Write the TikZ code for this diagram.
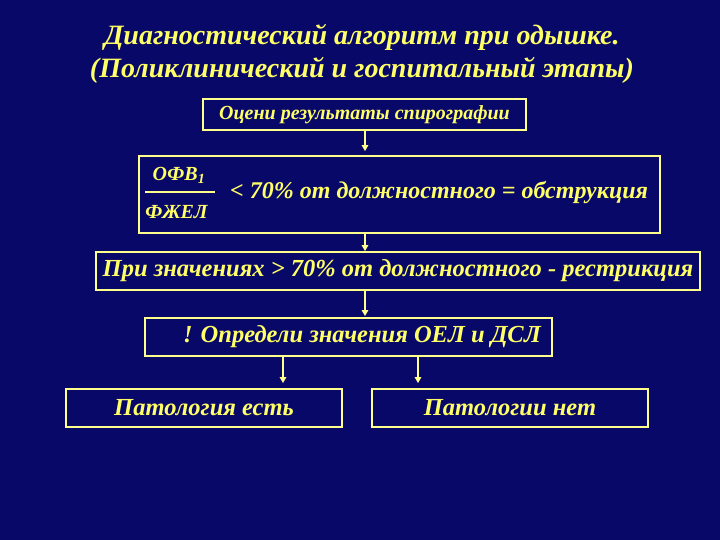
\documentclass[tikz,border=0pt]{standalone}
\usepackage{fontspec}
\setmainfont{Liberation Serif}
\usetikzlibrary{arrows.meta}
\definecolor{bg}{RGB}{8,8,105}
\definecolor{txt}{RGB}{255,255,102}
\definecolor{ln}{RGB}{255,255,140}
\tikzset{
  box/.style={draw=ln, line width=1.8pt, text=txt, inner sep=0pt},
  arr/.style={draw=ln, line width=1.2pt, -{Triangle[length=6pt,width=6.5pt]}},
  lbl/.style={text=txt, inner sep=0pt},
  big/.style={font=\fontsize{24.5}{28}\selectfont\bfseries\itshape},
}
\begin{document}
\begin{tikzpicture}[x=1pt,y=-1pt]
\fill[bg] (0,0) rectangle (720,540);
\useasboundingbox (0,0) rectangle (720,540);
\node[lbl, font=\fontsize{28}{33}\selectfont\bfseries\itshape, align=center] (title) at (362,54) {Диагностический алгоритм при одышке.\\(Поликлинический и госпитальный этапы)};
\node[box, minimum width=323pt, minimum height=31pt, font=\fontsize{20}{22}\selectfont\bfseries\itshape] (b1) at (364.5,114.5) {Оцени результаты спирографии};
\node[box, minimum width=521pt, minimum height=77pt] (b2) at (399.5,194.5) {};
\node[lbl, font=\fontsize{20}{22}\selectfont\bfseries\itshape] (num) at (179,175) {ОФВ\textsubscript{1}};
\node[lbl, font=\fontsize{20}{22}\selectfont\bfseries\itshape] (den) at (176.5,212) {ФЖЕЛ};
\coordinate (fl) at (145,192);
\coordinate (fr) at (215,192);
\draw[ln, line width=1.4pt] (fl) -- (fr);
\node[lbl, font=\fontsize{24}{28}\selectfont\bfseries\itshape, anchor=west] (t2) at (230,193) {< 70\% от должностного = обструкция};
\node[box, big, minimum width=604pt, minimum height=38pt] (b3) at (398,271) {При значениях > 70\% от должностного - рестрикция};
\node[box, big, minimum width=407pt, minimum height=38pt] (b4) at (348.5,337) {\hspace*{27pt}! Определи значения ОЕЛ и ДСЛ};
\node[box, big, minimum width=276pt, minimum height=38pt] (b5) at (204,408) {Патология есть};
\node[box, big, minimum width=276pt, minimum height=38pt] (b6) at (510,408) {Патологии нет};
\draw[arr] (b1.south -| 365,0) -- ([yshift=4pt]b2.north -| 365,0);
\draw[arr] (b2.south -| 365,0) -- (b3.north -| 365,0);
\draw[arr] (b3.south -| 365,0) -- ([yshift=1pt]b4.north -| 365,0);
\draw[arr] (b4.south -| 283,0) -- ([yshift=5pt]b5.north -| 283,0);
\draw[arr] (b4.south -| 418,0) -- ([yshift=5pt]b6.north -| 418,0);
\end{tikzpicture}
\end{document}
